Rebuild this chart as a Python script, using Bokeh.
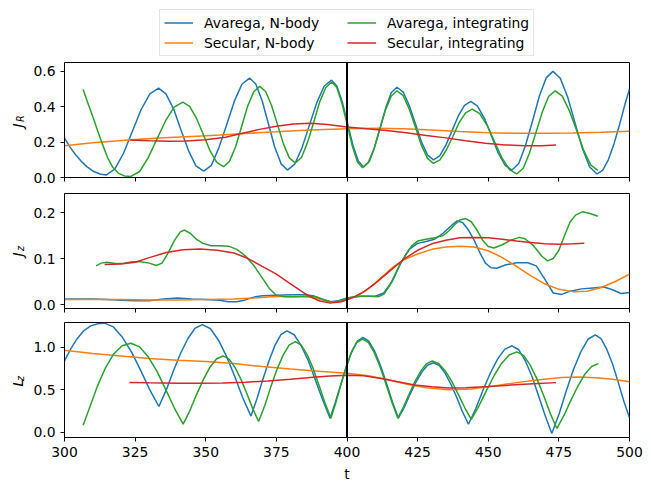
import math

from bokeh.embed import file_html
from bokeh.layouts import column, row
from bokeh.models import (FixedTicker, Label, Legend, LegendItem,
                          PrintfTickFormatter, Range1d, Span)
from bokeh.plotting import figure
from bokeh.resources import INLINE

# ---------------------------------------------------------------- data
# J_R panel
jr_avg_nbody_t = [300, 302, 304, 306, 308, 310, 312.5, 314.7,
                  317.8, 320.9, 324.0, 327.1, 330.2, 333.3,
                  335.9, 338.6, 341.2, 343.9, 346.5, 349.3,
                  352.0, 354.6, 357.4, 360.1, 362.8, 365.5,
                  367.7, 370.0, 372.2, 374.4, 376.7, 378.9,
                  381.5, 384.1, 386.7, 389.3, 391.9, 394.5,
                  396.4, 398.3, 400.2, 402.1, 404.0, 405.9,
                  407.9, 409.8, 411.8, 413.8, 415.7, 417.7,
                  419.9, 422.0, 424.2, 426.3, 428.5, 430.6,
                  432.8, 435.0, 437.2, 439.4, 441.6, 443.8,
                  446.2, 448.7, 451.1, 453.5, 456.0, 458.4,
                  460.8, 463.2, 465.7, 468.1, 470.5, 472.9,
                  475.5, 478.1, 480.7, 483.3, 485.9, 488.5,
                  490.5, 492.5, 494.5, 496.5, 498.5, 500]
jr_avg_nbody = [0.224, 0.17, 0.127, 0.09, 0.06, 0.037, 0.02, 0.014,
                0.047, 0.137, 0.26, 0.383, 0.473, 0.505,
                0.473, 0.388, 0.27, 0.152, 0.066, 0.036,
                0.069, 0.166, 0.298, 0.43, 0.527, 0.562,
                0.528, 0.432, 0.302, 0.172, 0.077, 0.042,
                0.076, 0.169, 0.296, 0.423, 0.516, 0.55,
                0.517, 0.428, 0.305, 0.183, 0.093, 0.06,
                0.09, 0.173, 0.285, 0.398, 0.48, 0.51,
                0.483, 0.408, 0.305, 0.203, 0.128, 0.10,
                0.122, 0.183, 0.265, 0.348, 0.408, 0.43,
                0.404, 0.333, 0.236, 0.139, 0.068, 0.042,
                0.079, 0.182, 0.321, 0.461, 0.563, 0.60,
                0.561, 0.455, 0.31, 0.165, 0.059, 0.02,
                0.04, 0.10, 0.19, 0.30, 0.42, 0.50]

jr_sec_nbody_t = [300, 305, 310, 317, 325, 335, 345, 355, 365, 375, 385,
                  392, 400, 410, 420, 430, 440, 450, 460, 470, 480, 490, 500]
jr_sec_nbody = [0.18, 0.188, 0.196, 0.205, 0.215, 0.224, 0.232, 0.24, 0.25,
                0.258, 0.267, 0.272, 0.276, 0.278, 0.276, 0.268, 0.26, 0.253,
                0.25, 0.25, 0.252, 0.256, 0.262]

jr_avg_int_t = [306.6, 308.3, 310.0, 311.7, 313.4, 315.2, 317.0, 319.0, 321.2, 323.5,
                326.6, 329.6, 332.7, 335.8, 338.8, 341.9,
                344.3, 346.7, 349.1, 351.5, 353.9, 356.3,
                358.4, 360.6, 362.7, 364.8, 367.0, 369.1,
                371.2, 373.3, 375.4, 377.5, 379.6, 381.7,
                383.9, 386.0, 388.2, 390.3, 392.5, 394.6,
                396.4, 398.2, 400.1, 401.9, 403.7, 405.5,
                407.5, 409.6, 411.6, 413.6, 415.7, 417.7,
                419.9, 422.0, 424.2, 426.3, 428.5, 430.6,
                432.9, 435.2, 437.5, 439.7, 442.0, 444.3,
                446.9, 449.6, 452.2, 454.8, 457.5, 460.1,
                462.4, 464.6, 466.9, 469.2, 471.4, 473.7,
                476.2, 478.7, 481.3, 483.8, 486.3, 488.8]
jr_avg_int = [0.498, 0.42, 0.345, 0.265, 0.19, 0.114, 0.06, 0.025, 0.009, 0.006,
              0.034, 0.111, 0.216, 0.321, 0.398, 0.426,
              0.402, 0.335, 0.244, 0.152, 0.085, 0.061,
              0.091, 0.175, 0.288, 0.402, 0.485, 0.515,
              0.486, 0.407, 0.299, 0.19, 0.111, 0.082,
              0.113, 0.197, 0.311, 0.426, 0.509, 0.54,
              0.508, 0.419, 0.298, 0.176, 0.087, 0.055,
              0.084, 0.164, 0.273, 0.381, 0.461, 0.49,
              0.463, 0.388, 0.285, 0.183, 0.108, 0.08,
              0.1, 0.157, 0.233, 0.31, 0.365, 0.386,
              0.362, 0.295, 0.203, 0.112, 0.045, 0.02,
              0.052, 0.138, 0.255, 0.373, 0.459, 0.49,
              0.46, 0.378, 0.265, 0.153, 0.07, 0.04]

jr_sec_int_t = [323.3, 330, 337, 343, 350, 357, 363, 369, 375, 381, 387, 393,
                400, 407, 414, 421, 428, 435, 442, 449, 456, 463, 469, 474]
jr_sec_int = [0.212, 0.208, 0.205, 0.206, 0.213, 0.228, 0.25, 0.272, 0.29, 0.302,
              0.307, 0.30, 0.285, 0.275, 0.265, 0.253, 0.238, 0.224, 0.208, 0.193,
              0.184, 0.18, 0.18, 0.183]

# J_z panel
jz_avg_nbody_t = [300, 305, 310, 315, 320, 325, 330, 335, 340, 345, 350, 355, 358,
                  361, 364, 367, 370, 375, 380, 385, 388, 391, 394, 397, 400, 405,
                  410, 413, 416, 419, 422, 425, 428, 431, 434, 437, 439, 441, 443,
                  445, 447, 449, 451, 453, 456, 460, 464, 467, 470, 473, 476, 479,
                  483, 487, 491, 494, 497, 500]
jz_avg_nbody = [0.012, 0.012, 0.012, 0.011, 0.009, 0.008, 0.008, 0.012, 0.014, 0.012,
                0.011, 0.009, 0.006, 0.006, 0.01, 0.016, 0.019, 0.02, 0.021, 0.021,
                0.019, 0.012, 0.006, 0.008, 0.014, 0.018, 0.018, 0.025, 0.05, 0.09,
                0.12, 0.133, 0.137, 0.142, 0.155, 0.172, 0.182, 0.178, 0.162, 0.14,
                0.113, 0.09, 0.08, 0.079, 0.086, 0.091, 0.091, 0.084, 0.055, 0.025,
                0.022, 0.029, 0.034, 0.036, 0.038, 0.032, 0.024, 0.026]

jz_sec_nbody_t = [300, 310, 320, 330, 340, 350, 360, 367, 373, 380, 386, 390, 394,
                  397, 400, 404, 408, 412, 416, 420, 425, 430, 435, 440, 445, 450,
                  455, 460, 465, 470, 475, 480, 485, 490, 495, 500]
jz_sec_nbody = [0.011, 0.011, 0.011, 0.01, 0.01, 0.011, 0.012, 0.014, 0.017, 0.018,
                0.017, 0.012, 0.006, 0.006, 0.01, 0.02, 0.036, 0.058, 0.08, 0.097,
                0.11, 0.12, 0.125, 0.127, 0.125, 0.117, 0.102, 0.083, 0.063, 0.045,
                0.033, 0.028, 0.029, 0.037, 0.05, 0.066]

jz_avg_int_t = [311.2, 313, 315, 318, 321, 324, 327, 330, 332.5, 334.5, 336.5, 339,
                341, 342.5, 344.5, 346.5, 349, 352, 355, 358, 361, 364, 367, 370,
                372.5, 375, 378, 382, 386, 389, 392, 395, 398, 401, 404, 408, 411,
                413, 415, 417, 419, 421, 423, 425, 428, 431, 434, 436, 438, 440,
                442, 444, 446, 448, 450, 452, 455, 458, 461, 463, 466, 469, 471,
                473, 475, 477, 479, 481, 483.5, 486, 488.8]
jz_avg_int = [0.084, 0.09, 0.092, 0.089, 0.09, 0.093, 0.093, 0.09, 0.085, 0.09, 0.11,
              0.14, 0.158, 0.162, 0.155, 0.143, 0.133, 0.128, 0.128, 0.127, 0.12,
              0.106, 0.085, 0.058, 0.035, 0.02, 0.017, 0.017, 0.018, 0.017, 0.01,
              0.005, 0.009, 0.015, 0.018, 0.018, 0.017, 0.022, 0.04, 0.065, 0.09,
              0.11, 0.128, 0.138, 0.142, 0.145, 0.15, 0.16, 0.173, 0.184, 0.187,
              0.18, 0.162, 0.14, 0.126, 0.123, 0.13, 0.14, 0.146, 0.143, 0.128,
              0.105, 0.095, 0.1, 0.118, 0.15, 0.18, 0.195, 0.202, 0.198, 0.192]

jz_sec_int_t = [314.2, 320, 325, 330, 336, 342, 348, 354, 360, 365, 370, 375, 380,
                385, 390, 394, 398, 402, 406, 410, 415, 420, 425, 430, 435, 440,
                445, 450, 455, 460, 465, 470, 475, 480, 484]
jz_sec_int = [0.087, 0.088, 0.092, 0.102, 0.113, 0.119, 0.121, 0.118, 0.112, 0.1,
              0.083, 0.066, 0.045, 0.024, 0.008, 0.003, 0.006, 0.015, 0.028, 0.046,
              0.072, 0.098, 0.118, 0.132, 0.14, 0.145, 0.146, 0.145, 0.142, 0.138,
              0.135, 0.132, 0.131, 0.132, 0.133]

# L_z panel
lz_avg_nbody_t = [300, 302.3, 304.6, 306.9, 309.3, 311.7, 314.1,
                  317.3, 320.5, 323.8, 327.0, 330.2, 333.4,
                  336.0, 338.5, 341.1, 343.7, 346.2, 348.8,
                  351.7, 354.5, 357.4, 360.3, 363.1, 366.0,
                  368.1, 370.2, 372.4, 374.5, 376.6, 378.7,
                  381.3, 383.8, 386.4, 388.9, 391.5, 394.0,
                  395.9, 397.9, 399.8, 401.7, 403.7, 405.6,
                  407.7, 409.8, 411.9, 414.0, 416.1, 418.2,
                  420.3, 422.3, 424.4, 426.5, 428.5, 430.6,
                  432.7, 434.7, 436.8, 438.9, 440.9, 443.0,
                  445.6, 448.1, 450.7, 453.3, 455.8, 458.4,
                  460.8, 463.1, 465.5, 467.8, 470.2, 472.5,
                  475.1, 477.6, 480.2, 482.8, 485.3, 487.9,
                  489.9, 491.9, 494.0, 496.0, 498.0, 500]
lz_avg_nbody = [0.84, 0.99, 1.11, 1.2, 1.255, 1.281, 1.287,
                1.243, 1.12, 0.943, 0.726, 0.50, 0.303,
                0.496, 0.719, 0.932, 1.106, 1.227, 1.27,
                1.221, 1.086, 0.892, 0.654, 0.406, 0.19,
                0.391, 0.623, 0.844, 1.025, 1.151, 1.196,
                1.15, 1.021, 0.835, 0.608, 0.371, 0.165,
                0.356, 0.575, 0.784, 0.956, 1.075, 1.118,
                1.075, 0.956, 0.784, 0.575, 0.356, 0.165,
                0.296, 0.447, 0.591, 0.709, 0.79, 0.82,
                0.787, 0.697, 0.566, 0.406, 0.239, 0.094,
                0.279, 0.492, 0.696, 0.863, 0.978, 1.02,
                0.973, 0.844, 0.658, 0.43, 0.192, -0.015,
                0.218, 0.486, 0.742, 0.951, 1.097, 1.149,
                1.105, 0.983, 0.806, 0.591, 0.366, 0.17]

lz_sec_nbody_t = [300, 310, 320, 330, 340, 350, 360, 370, 380, 390, 400, 407, 414,
                  420, 428, 436, 444, 452, 460, 468, 476, 482, 488, 494, 500]
lz_sec_nbody = [0.968, 0.93, 0.9, 0.87, 0.85, 0.835, 0.81, 0.775, 0.745, 0.72, 0.697,
                0.67, 0.625, 0.575, 0.525, 0.5, 0.51, 0.545, 0.585, 0.62, 0.645,
                0.65, 0.643, 0.625, 0.594]

lz_avg_int_t = [306.6, 309.0, 311.7, 314.5, 317.3, 320.4, 323.5,
                326.6, 329.7, 332.8, 335.8, 338.9, 342.0,
                344.4, 346.7, 349.1, 351.4, 353.8, 356.1,
                358.2, 360.3, 362.4, 364.5, 366.6, 368.7,
                370.9, 373.0, 375.2, 377.4, 379.5, 381.7,
                383.8, 385.9, 388.0, 390.1, 392.2, 394.3,
                396.1, 397.9, 399.8, 401.6, 403.4, 405.5,
                407.6, 409.6, 411.7, 413.8, 415.9, 418.0,
                420.0, 422.1, 424.1, 426.2, 428.2, 430.2,
                432.5, 434.8, 437.1, 439.4, 441.7, 444.0,
                446.7, 449.4, 452.1, 454.7, 457.4, 460.1,
                462.5, 464.8, 467.2, 469.6, 471.9, 474.3,
                476.8, 479.2, 481.7, 484.1, 486.6, 489.0]
lz_avg_int = [0.083, 0.30, 0.547, 0.76, 0.92, 1.02, 1.05,
              1.007, 0.887, 0.715, 0.505, 0.285, 0.094,
              0.255, 0.441, 0.618, 0.763, 0.864, 0.90,
              0.865, 0.768, 0.629, 0.459, 0.281, 0.126,
              0.315, 0.532, 0.74, 0.91, 1.028, 1.07,
              1.029, 0.916, 0.753, 0.554, 0.346, 0.165,
              0.352, 0.567, 0.773, 0.941, 1.058, 1.10,
              1.058, 0.941, 0.773, 0.567, 0.352, 0.165,
              0.30, 0.455, 0.604, 0.725, 0.81, 0.84,
              0.809, 0.723, 0.599, 0.447, 0.288, 0.15,
              0.31, 0.493, 0.669, 0.812, 0.912, 0.948,
              0.907, 0.794, 0.632, 0.433, 0.225, 0.044,
              0.197, 0.373, 0.542, 0.68, 0.776, 0.81]

lz_sec_int_t = [323, 330, 340, 348, 356, 364, 372, 380, 388, 394, 400, 406, 412,
                418, 424, 430, 436, 442, 450, 458, 466, 474]
lz_sec_int = [0.587, 0.583, 0.578, 0.577, 0.58, 0.59, 0.605, 0.625, 0.648, 0.663,
              0.672, 0.665, 0.635, 0.595, 0.558, 0.535, 0.522, 0.525, 0.538, 0.556,
              0.572, 0.585]

x_ticks = [300, 325, 350, 375, 400, 425, 450, 475, 500]
jr_ticks = [0.0, 0.2, 0.4, 0.6]
jz_ticks = [0.0, 0.1, 0.2]
lz_ticks = [0.0, 0.5, 1.0]
series_labels = ["Avarega, N-body", "Secular, N-body",
                 "Avarega, integrating", "Secular, integrating"]
t_marker = 400

# ---------------------------------------------------------------- style
FONT = "DejaVu Sans"
FS = "13.9px"
SUB_FS = "9.7px"
COLORS = ["#1f77b4", "#ff7f0e", "#2ca02c", "#d62728"]
LW = 1.5
PAGE_W, PAGE_H = 651, 491
LEGEND_H = 61         # band on top that carries the legend
STRIP_W = 30          # strip on the left that carries the y-axis titles

x_range = Range1d(300, 500)


def blank_figure(width, height):
    f = figure(width=width, height=height, output_backend="svg",
               toolbar_location=None, x_axis_location=None,
               y_axis_location=None, min_border=0,
               x_range=Range1d(0, 1), y_range=Range1d(0, 1))
    f.xgrid.visible = False
    f.ygrid.visible = False
    f.outline_line_color = None
    f.background_fill_color = "white"
    f.border_fill_color = "white"
    return f


def make_panel(height, top, bottom, y_lim, y_ticks, show_x_labels):
    p = figure(width=PAGE_W - STRIP_W, height=height, x_range=x_range,
               y_range=Range1d(*y_lim), output_backend="svg",
               toolbar_location=None, min_border_left=64 - STRIP_W,
               min_border_right=22, min_border_top=top,
               min_border_bottom=bottom)
    p.xgrid.visible = False
    p.ygrid.visible = False
    p.outline_line_color = "black"
    p.outline_line_width = 1
    p.outline_line_alpha = 1
    p.background_fill_color = "white"
    p.border_fill_color = "white"

    for ax in (p.xaxis[0], p.yaxis[0]):
        ax.axis_line_color = "black"
        ax.axis_line_width = 1
        ax.major_tick_line_color = "black"
        ax.major_tick_line_width = 1
        ax.major_tick_out = 4
        ax.major_tick_in = 0
        ax.minor_tick_line_color = None
        ax.major_label_text_font = FONT
        ax.major_label_text_font_size = FS
        ax.major_label_text_color = "black"

    p.xaxis[0].ticker = FixedTicker(ticks=x_ticks)
    p.yaxis[0].ticker = FixedTicker(ticks=y_ticks)
    p.yaxis[0].formatter = PrintfTickFormatter(format="%.1f")
    p.xaxis[0].formatter = PrintfTickFormatter(format="%d")
    if not show_x_labels:
        # shared time axis: tick marks only, numbers on the bottom panel
        p.xaxis[0].major_label_text_color = None
        p.xaxis[0].major_label_text_font_size = "1px"
        p.xaxis[0].major_label_standoff = 0

    p.add_layout(Span(location=t_marker, dimension="height",
                      line_color="black", line_width=2))
    return p


def draw(p, data):
    return [p.line(t, v, line_color=col, line_width=LW)
            for (t, v), col in zip(data, COLORS)]


jr_data = [(jr_avg_nbody_t, jr_avg_nbody), (jr_sec_nbody_t, jr_sec_nbody),
           (jr_avg_int_t, jr_avg_int), (jr_sec_int_t, jr_sec_int)]

p1 = make_panel(123, 1, 7, (0.0, 0.65), jr_ticks, False)
draw(p1, jr_data)

p2 = make_panel(131, 9, 7, (-0.0087, 0.2415), jz_ticks, False)
draw(p2, [(jz_avg_nbody_t, jz_avg_nbody), (jz_sec_nbody_t, jz_sec_nbody),
          (jz_avg_int_t, jz_avg_int), (jz_sec_int_t, jz_sec_int)])

p3 = make_panel(176, 7, 54, (-0.063, 1.295), lz_ticks, True)
draw(p3, [(lz_avg_nbody_t, lz_avg_nbody), (lz_sec_nbody_t, lz_sec_nbody),
          (lz_avg_int_t, lz_avg_int), (lz_sec_int_t, lz_sec_int)])
p3.xaxis[0].axis_label = "t"
p3.xaxis[0].axis_label_text_font = FONT
p3.xaxis[0].axis_label_text_font_size = FS
p3.xaxis[0].axis_label_text_font_style = "normal"
p3.xaxis[0].axis_label_text_color = "black"
p3.xaxis[0].axis_label_standoff = 6

# legend band: two columns, filled column by column.  The key renderers carry
# the J_R series but lie outside this band's (0..1) ranges, so only their
# legend swatches show.
top = blank_figure(PAGE_W, LEGEND_H)
keys = draw(top, jr_data)
legend = Legend(items=[LegendItem(label=lab, renderers=[r])
                       for lab, r in zip(series_labels, keys)],
                location=(159, 5), ncols=2,
                label_text_font=FONT, label_text_font_size=FS,
                label_text_color="black",
                glyph_width=29, glyph_height=17, label_height=17,
                label_width=140, label_standoff=11, spacing=3, padding=4,
                margin=0, border_line_color="#cccccc", border_line_width=1,
                background_fill_color="white", background_fill_alpha=0.8)
top.add_layout(legend)

# strip on the left holding the rotated y-axis titles (italic symbol + subscript)
strip = blank_figure(STRIP_W, PAGE_H - LEGEND_H)


def add_ylabel(main, sub, y_main):
    strip.add_layout(Label(x=17.5, y=PAGE_H - y_main, x_units="screen",
                           y_units="screen", text=main, angle=math.pi / 2,
                           text_font=FONT, text_font_size=FS,
                           text_font_style="italic", text_align="left",
                           text_baseline="alphabetic", text_color="black"))
    strip.add_layout(Label(x=20.0, y=PAGE_H - y_main + 5.5, x_units="screen",
                           y_units="screen", text=sub, angle=math.pi / 2,
                           text_font=FONT, text_font_size=SUB_FS,
                           text_font_style="italic", text_align="left",
                           text_baseline="alphabetic", text_color="black"))


add_ylabel("J", "R", 127)
add_ylabel("J", "z", 256)
add_ylabel("L", "z", 386)

layout = column(top, row(strip, column(p1, p2, p3, spacing=0), spacing=0),
                spacing=0)

open("out.html", "w").write(file_html(layout, INLINE))
